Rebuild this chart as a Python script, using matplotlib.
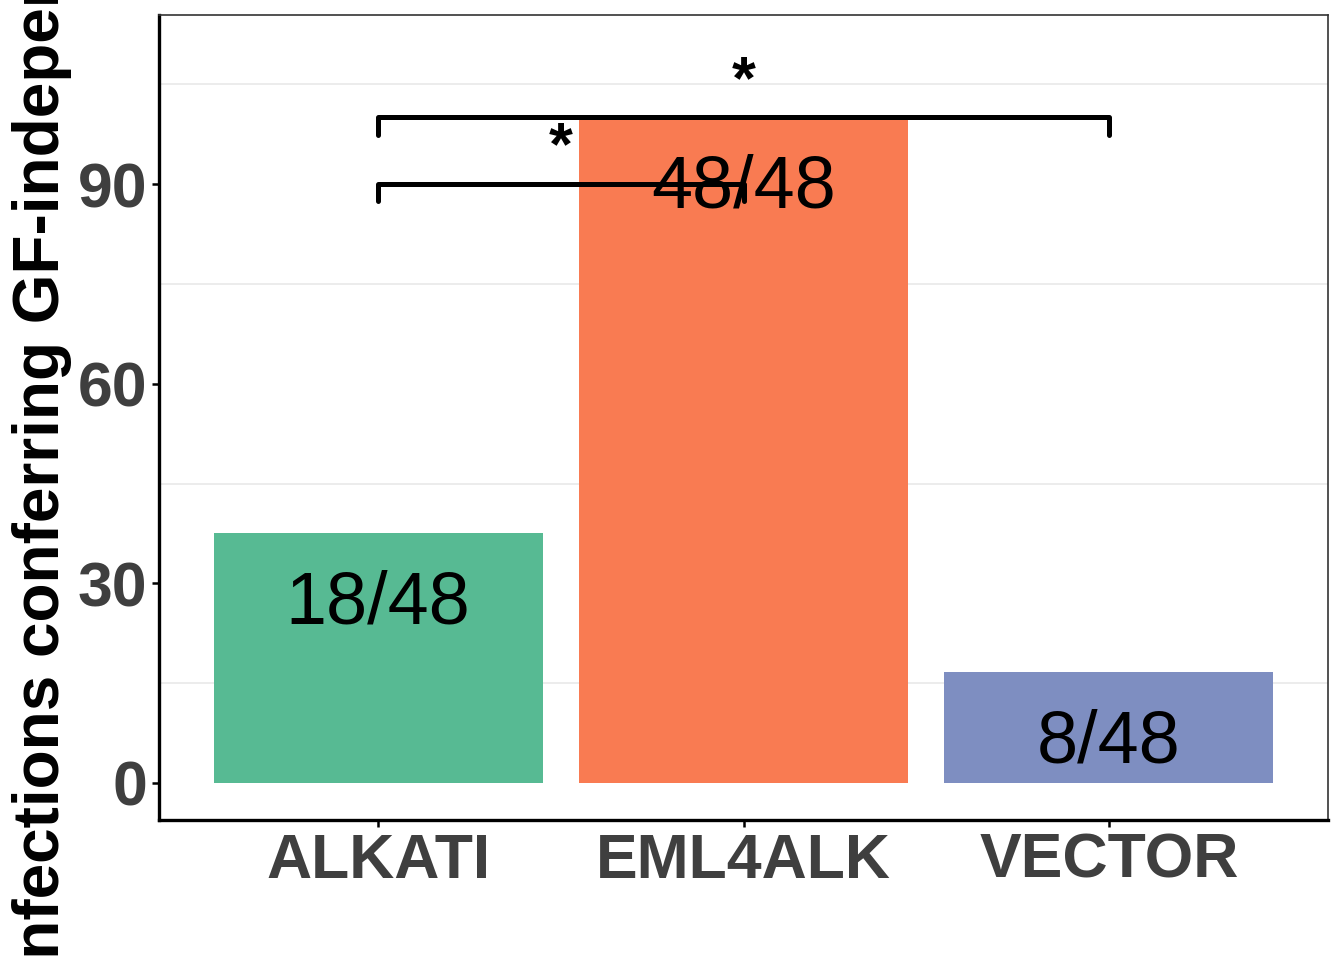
import matplotlib
matplotlib.use("Agg")
import matplotlib.pyplot as plt
from matplotlib.ticker import FixedLocator

# data
groups = ["ALKATI", "EML4ALK", "VECTOR"]
positives = [18, 48, 8]
totals = [48, 48, 48]
colors = ["#57BA93", "#F97B52", "#7E8EC1"]
# significance brackets: (left group index, right group index, height, label)
brackets = [(0, 2, 100, "*"), (0, 1, 90, "*")]

pct = [100.0 * p / t for p, t in zip(positives, totals)]
labels = ["%d/%d" % (p, t) for p, t in zip(positives, totals)]
xpos = list(range(1, len(groups) + 1))

plt.rcParams['font.family'] = ['Liberation Sans', 'DejaVu Sans']

fig = plt.figure(figsize=(13.44, 9.6), dpi=100)
ax = fig.add_axes([159/1344, 140/960, (1328-159)/1344, (820-15)/960])

ax.bar(xpos, pct, width=0.9, color=colors, zorder=2)
for x, v, lab in zip(xpos, pct, labels):
    ax.text(x, v - 10.6, lab, ha='center', va='center', fontsize=53, color='black', zorder=4)

tip = 2.6
for a, b, h, lab in brackets:
    xa, xb = xpos[a], xpos[b]
    ax.plot([xa, xa, xb, xb], [h - tip, h, h, h - tip], color='black', lw=3.6,
            solid_capstyle='round', solid_joinstyle='round', zorder=3)
    ax.text((xa + xb) / 2, h + 5.3, lab, ha='center', va='center', fontsize=44,
            fontweight='bold', zorder=4)

ax.set_xlim(0.4, 3.6)
ax.set_ylim(-5.56, 115.4)
ax.set_xticks(xpos)
ax.set_xticklabels(groups)
ax.yaxis.set_major_locator(FixedLocator([0, 30, 60, 90]))
ax.yaxis.set_minor_locator(FixedLocator([15, 45, 75, 105]))
ax.grid(which='minor', axis='y', color='#EBEBEB', lw=1.3, zorder=0)
ax.grid(which='major', visible=False)
ax.set_axisbelow(True)

for lbl in ax.get_xticklabels() + ax.get_yticklabels():
    lbl.set_fontweight('bold')
ax.tick_params(axis='both', which='major', labelsize=45, labelcolor='#3F3F3F',
               length=5, width=1.8, color='black', pad=3.5)
ax.tick_params(axis='y', which='minor', length=0)

ax.spines['left'].set_linewidth(2.4)
ax.spines['bottom'].set_linewidth(2.4)
ax.spines['top'].set_linewidth(1.2)
ax.spines['right'].set_linewidth(1.2)
ax.spines['top'].set_color('#333333')
ax.spines['right'].set_color('#333333')

# y label is wider than the figure, so it runs off both edges like the original
fig.text(42/1344, 1 - 417/960, "% infections conferring GF-independence", rotation=90,
         ha='center', va='center', fontsize=46, fontweight='bold', color='black')

fig.savefig("out.png", dpi=100)
